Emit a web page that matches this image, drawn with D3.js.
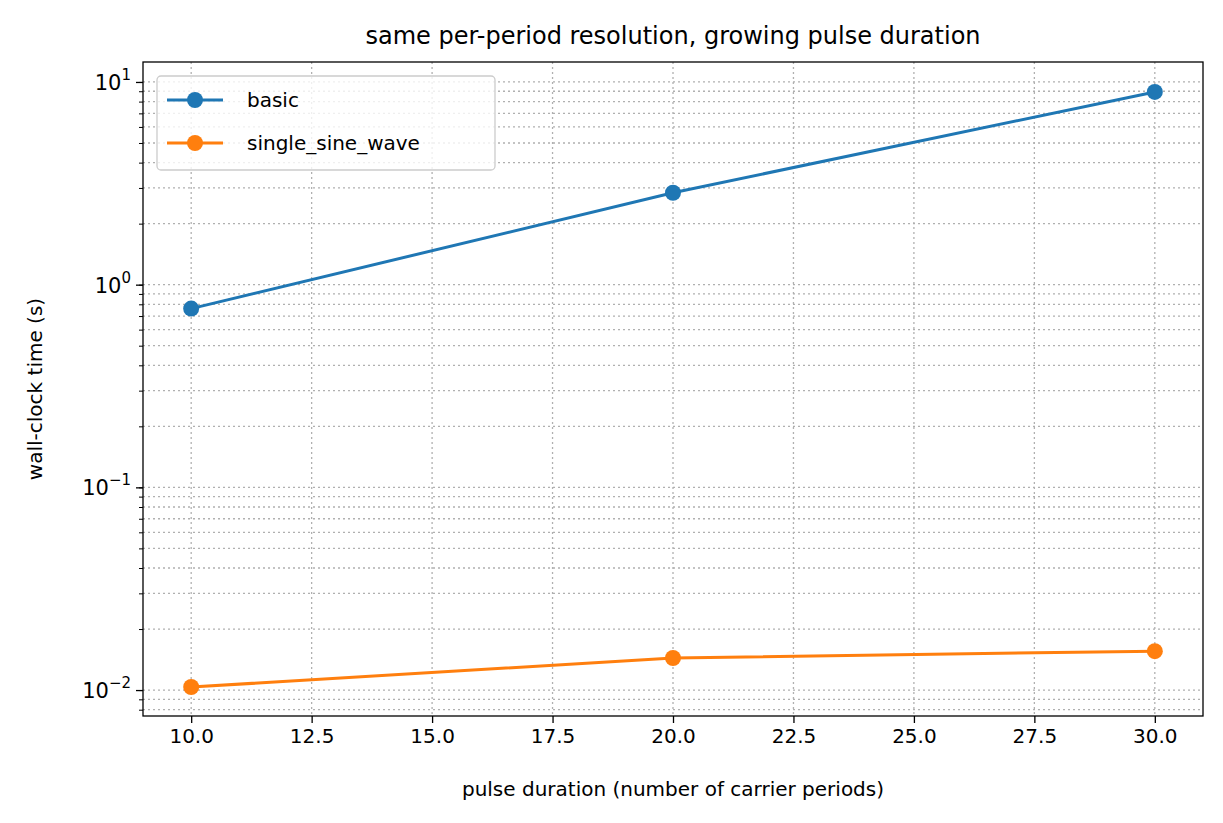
<!DOCTYPE html>
<html><head><meta charset="utf-8">
<script src="https://cdn.jsdelivr.net/npm/d3@7"></script>
<style>body{margin:0;background:#fff}text{font-family:"DejaVu Sans",sans-serif}</style>
</head><body><svg id="c" width="1223" height="823"></svg>
<script>
const durations=[10,20,30];
const basic=[0.762,2.84,8.93];
const singleSine=[0.01035,0.01439,0.01556];
const xTicks=[10,12.5,15,17.5,20,22.5,25,27.5,30];
const series=[{name:"basic",values:basic,color:"#1f77b4"},{name:"single_sine_wave",values:singleSine,color:"#ff7f0e"}];
const L=143,R=1203,T=62,B=716;
const svg=d3.select("#c");
const x=d3.scaleLinear().domain([9,31]).range([L,R]);
const y=d3.scaleLog().domain([Math.pow(10,-2.128),Math.pow(10,1.0985)]).range([B,T]);
const g=svg.append("g");
const minor=[];for(let e=-3;e<=1;e++)for(let m=1;m<10;m++){const v=m*Math.pow(10,e);if(v>=y.domain()[0]&&v<=y.domain()[1])minor.push(v);}
g.selectAll(".gy").data(minor).enter().append("line").attr("x1",L).attr("x2",R).attr("y1",d=>y(d)).attr("y2",d=>y(d)).attr("stroke","#b0b0b0").attr("stroke-width",1.3).attr("stroke-dasharray","2,3");
g.selectAll(".gx").data(xTicks).enter().append("line").attr("y1",T).attr("y2",B).attr("x1",d=>x(d)).attr("x2",d=>x(d)).attr("stroke","#b0b0b0").attr("stroke-width",1.3).attr("stroke-dasharray","2,3");
const xa=svg.append("g").attr("transform",`translate(0,${B})`).call(d3.axisBottom(x).tickValues(xTicks).tickFormat(d3.format(".1f")).tickSize(7).tickPadding(6));
const ya=svg.append("g").attr("transform",`translate(${L},0)`).call(d3.axisLeft(y).tickValues([0.01,0.1,1,10]).tickFormat("").tickSize(7));
svg.append("g").attr("transform",`translate(${L},0)`).call(d3.axisLeft(y).tickValues(minor).tickFormat("").tickSize(4)).select(".domain").remove();
[xa,ya].forEach(a=>{a.select(".domain").remove();a.selectAll("text").attr("font-size",20).attr("fill","#000").attr("font-family","DejaVu Sans");a.selectAll("line").attr("stroke","#000").attr("stroke-width",1.3);});
[[-2,0.01],[-1,0.1],[0,1],[1,10]].forEach(([e,v])=>{const t=svg.append("text").attr("x",L-12).attr("y",y(v)+8).attr("text-anchor","end").attr("font-size",21);t.append("tspan").text("10");t.append("tspan").attr("dy",-10).attr("font-size",15).text(e<0?"−"+(-e):e);});
svg.append("rect").attr("x",L).attr("y",T).attr("width",R-L).attr("height",B-T).attr("fill","none").attr("stroke","#000").attr("stroke-width",1.3);
const line=d3.line().x((d,i)=>x(durations[i])).y(d=>y(d));
series.forEach(s=>{svg.append("path").datum(s.values).attr("d",line).attr("fill","none").attr("stroke",s.color).attr("stroke-width",3);
svg.selectAll(null).data(s.values).enter().append("circle").attr("cx",(d,i)=>x(durations[i])).attr("cy",d=>y(d)).attr("r",8).attr("fill",s.color);});
svg.append("text").attr("x",(L+R)/2).attr("y",44).attr("text-anchor","middle").attr("font-size",24).text("same per-period resolution, growing pulse duration");
svg.append("text").attr("x",(L+R)/2).attr("y",796).attr("text-anchor","middle").attr("font-size",20).text("pulse duration (number of carrier periods)");
svg.append("text").attr("transform",`translate(42,${(T+B)/2}) rotate(-90)`).attr("text-anchor","middle").attr("font-size",20).text("wall-clock time (s)");
const lg=svg.append("g").attr("transform","translate(157,76)");
lg.append("rect").attr("width",338).attr("height",94).attr("rx",4).attr("fill","#fff").attr("fill-opacity",0.8).attr("stroke","#ccc").attr("stroke-width",1.3);
series.forEach((s,i)=>{const yy=24+i*43;lg.append("line").attr("x1",10).attr("x2",66).attr("y1",yy).attr("y2",yy).attr("stroke",s.color).attr("stroke-width",3);
lg.append("circle").attr("cx",38).attr("cy",yy).attr("r",8).attr("fill",s.color);
lg.append("text").attr("x",90).attr("y",yy+7).attr("font-size",20).text(s.name);});
</script></body></html>
